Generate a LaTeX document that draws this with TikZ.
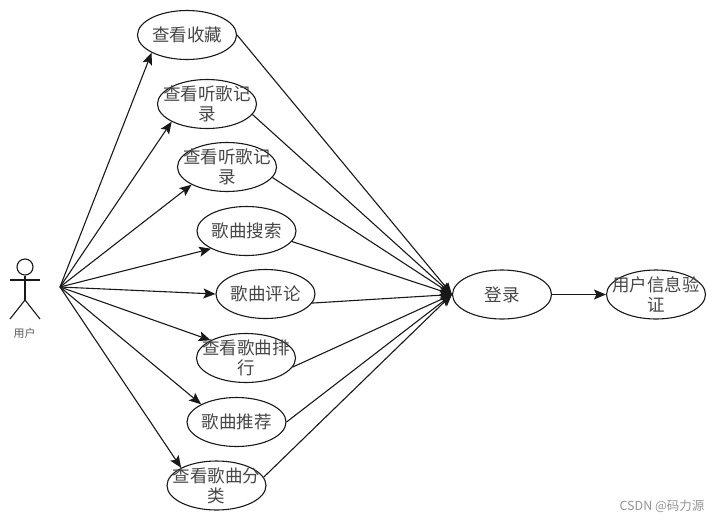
\documentclass[tikz,border=0pt]{standalone}
\usepackage{fontspec}
\setmainfont{Noto Sans CJK SC}[BoldFont={Noto Sans CJK SC}]
\usetikzlibrary{shapes.geometric,arrows.meta}
\definecolor{txtgray}{gray}{0.28}
\tikzset{
  line/.style={draw=black!90,line width=1.1pt},
  arr/.style={line,-{Stealth[length=12pt,width=10pt,inset=2.5pt]}},
  uc/.style={ellipse,line,fill=white,minimum width=99pt,minimum height=49pt,inner sep=0pt},
  uctxt/.style={text=txtgray,align=center,inner sep=0pt,font=\fontsize{17.5}{20}\selectfont},
}
\newcommand{\usecase}[4]{\node[uc,label={[uctxt]center:#4}] (#1) at (#2,#3) {};}
\begin{document}
\begin{tikzpicture}[x=1pt,y=-1pt]
\useasboundingbox (0,0) rectangle (715,520);
% use cases
\usecase{a}{187}{35}{查看收藏}
\usecase{b}{207}{104}{查看听歌记\\录}
\usecase{c}{227}{167}{查看听歌记\\录}
\usecase{d}{246.5}{231}{歌曲搜索}
\usecase{e}{265.5}{294}{歌曲评论}
\usecase{f}{246}{358}{查看歌曲排\\行}
\usecase{g}{236.5}{422}{歌曲推荐}
\usecase{i}{216.5}{485.5}{查看歌曲分\\类}
\usecase{l}{502}{294.5}{登录}
\usecase{v}{656}{294.5}{用户信息验\\证}
% actor
\node[circle,line,minimum size=16pt,inner sep=0pt] (head) at (25,267) {};
\coordinate (hip) at (25,300);
\coordinate (armL) at (10,280);
\coordinate (armR) at (40,280);
\coordinate (legL) at (10,319);
\coordinate (legR) at (40,319);
\draw[line] (head.south) -- (hip);
\draw[line] (armL) -- (armR);
\draw[line] (legL) -- (hip) -- (legR);
\node[text=black!65,inner sep=0pt,font=\fontsize{11}{13}\selectfont] (ulabel) at (24.5,333.5) {用户};
\coordinate (hub) at (60,287);
% actor to use cases
\draw[arr] (hub) -- (a.south west);
\draw[arr] (hub) -- (b.south west);
\draw[arr] (hub) -- (c.south west);
\draw[arr] (hub) -- (d.south west);
\draw[arr] (hub) -- (e.west);
\draw[arr] (hub) -- (f.north west);
\draw[arr] (hub) -- (g.north west);
\draw[arr] (hub) -- (i.north west);
% use cases to login
\draw[arr] (a.east) -- (l.west);
\draw[arr] (b.-13) -- (l.west);
\draw[arr] (c.-13) -- (l.west);
\draw[arr] (d.-13) -- (l.west);
\draw[arr] (e.-11) -- (l.west);
\draw[arr] (f.-11) -- (l.west);
\draw[arr] (g.east) -- (l.west);
\draw[arr] (i.10) -- (l.west);
\draw[arr] (l.east) -- (v.west);
% watermark
\node[text=black!42,inner sep=0pt,font=\fontsize{12.5}{14}\selectfont] (wm) at (662,506) {CSDN @码力源};
\end{tikzpicture}
\end{document}
